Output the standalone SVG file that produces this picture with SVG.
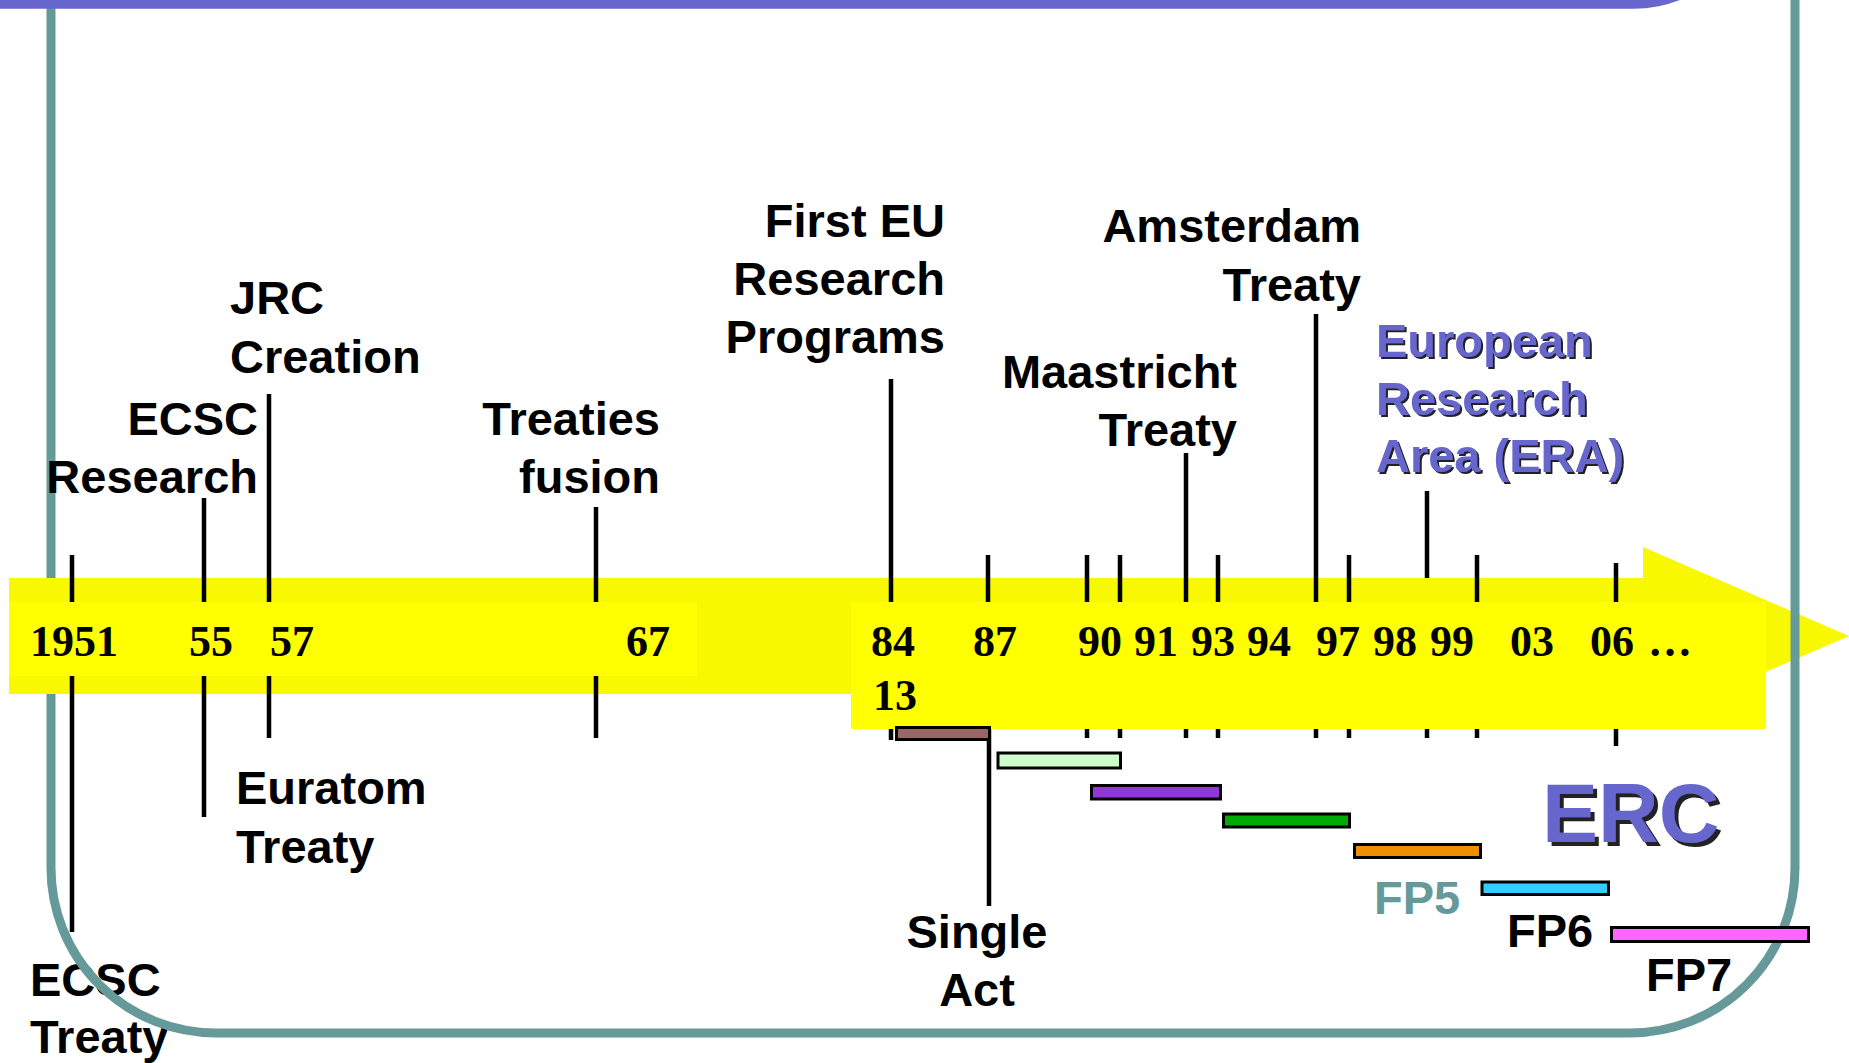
<svg xmlns="http://www.w3.org/2000/svg" width="1849" height="1063" viewBox="0 0 1849 1063">
<defs>
<filter id="sh2" x="-10%" y="-10%" width="120%" height="130%">
<feFlood flood-color="#222"/><feComposite in2="SourceAlpha" operator="in"/><feOffset dx="2" dy="2"/>
<feMerge><feMergeNode/><feMergeNode in="SourceGraphic"/></feMerge>
</filter>
<filter id="sh4" x="-10%" y="-10%" width="120%" height="130%">
<feFlood flood-color="#222"/><feComposite in2="SourceAlpha" operator="in"/><feOffset dx="4" dy="4"/>
<feMerge><feMergeNode/><feMergeNode in="SourceGraphic"/></feMerge>
</filter>
</defs>
<style>
.lbl{font-family:"Liberation Sans",Arial,sans-serif;font-weight:bold;font-size:47px;fill:#000}
.end{text-anchor:end}
.mid{text-anchor:middle}
.yr{font-family:"Liberation Serif","Times New Roman",serif;font-weight:bold;font-size:44px;fill:#000}
.era{fill:#6666CC}
.tick{stroke:#000;stroke-width:4.5;fill:none}
.bar{stroke:#000;stroke-width:3}
</style>
<rect width="1849" height="1063" fill="#fff"/>
<g id="timeline-arrow">
<polygon points="9,578 1643,578 1643,547 1849,636 1643,725 1643,694 9,694" fill="#F8F800"/>
<rect x="851" y="602" width="915" height="127" fill="#FFFF00"/>
</g>
<g id="ecsc-treaty"><text class="lbl" x="30" y="996">ECSC</text><text class="lbl" x="30" y="1053">Treaty</text></g>
<g id="frame">
<rect x="51" y="-300" width="1744" height="1333" rx="165" ry="165" fill="none" stroke="#669999" stroke-width="9"/>
<rect x="-200" y="-400" width="1964" height="408.7" rx="131" ry="131" fill="#6666CC"/>
</g>
<g id="year-box">
<rect x="9" y="578" width="80" height="116" fill="#F8F800"/>
<rect x="9" y="602" width="688" height="74" fill="#FFFF00"/>
</g>
<g id="connectors">
<line class="tick" x1="72" y1="555" x2="72" y2="602"/>
<line class="tick" x1="204" y1="498" x2="204" y2="602"/>
<line class="tick" x1="269" y1="394" x2="269" y2="602"/>
<line class="tick" x1="596" y1="507" x2="596" y2="602"/>
<line class="tick" x1="891" y1="379" x2="891" y2="602"/>
<line class="tick" x1="988" y1="555" x2="988" y2="602"/>
<line class="tick" x1="1087" y1="555" x2="1087" y2="602"/>
<line class="tick" x1="1120" y1="555" x2="1120" y2="602"/>
<line class="tick" x1="1186" y1="453" x2="1186" y2="602"/>
<line class="tick" x1="1218" y1="555" x2="1218" y2="602"/>
<line class="tick" x1="1316" y1="314" x2="1316" y2="602"/>
<line class="tick" x1="1349" y1="555" x2="1349" y2="602"/>
<line class="tick" x1="1427" y1="491" x2="1427" y2="578"/>
<line class="tick" x1="1477" y1="555" x2="1477" y2="602"/>
<line class="tick" x1="1616" y1="563" x2="1616" y2="602"/>
<line class="tick" x1="72" y1="676" x2="72" y2="932"/>
<line class="tick" x1="204" y1="676" x2="204" y2="817"/>
<line class="tick" x1="269" y1="676" x2="269" y2="738"/>
<line class="tick" x1="596" y1="676" x2="596" y2="738"/>
<line class="tick" x1="891" y1="729" x2="891" y2="740"/>
<line class="tick" x1="989" y1="729" x2="989" y2="906"/>
<line class="tick" x1="1087" y1="729" x2="1087" y2="738"/>
<line class="tick" x1="1120" y1="729" x2="1120" y2="738"/>
<line class="tick" x1="1186" y1="729" x2="1186" y2="738"/>
<line class="tick" x1="1218" y1="729" x2="1218" y2="738"/>
<line class="tick" x1="1316" y1="729" x2="1316" y2="738"/>
<line class="tick" x1="1349" y1="729" x2="1349" y2="738"/>
<line class="tick" x1="1427" y1="729" x2="1427" y2="738"/>
<line class="tick" x1="1477" y1="729" x2="1477" y2="738"/>
<line class="tick" x1="1616" y1="729" x2="1616" y2="746"/>
</g>
<g id="years">
<text class="yr" x="30" y="656">1951</text>
<text class="yr" x="189" y="656">55</text>
<text class="yr" x="270" y="656">57</text>
<text class="yr" x="626" y="656">67</text>
<text class="yr" x="871" y="656">84</text>
<text class="yr" x="873" y="710">13</text>
<text class="yr" x="973" y="656">87</text>
<text class="yr" x="1078" y="656">90</text>
<text class="yr" x="1134" y="656">91</text>
<text class="yr" x="1191" y="656">93</text>
<text class="yr" x="1247" y="656">94</text>
<text class="yr" x="1316" y="656">97</text>
<text class="yr" x="1373" y="656">98</text>
<text class="yr" x="1430" y="656">99</text>
<text class="yr" x="1510" y="656">03</text>
<text class="yr" x="1590" y="656">06</text>
<text class="yr" x="1648" y="656">…</text>
</g>
<g id="fp-bars">
<rect class="bar" x="896.5" y="727.5" width="93" height="12" fill="#996666"/>
<rect class="bar" x="998" y="753" width="122.5" height="15" fill="#CCFFCC"/>
<rect class="bar" x="1091.5" y="785.5" width="129" height="13.5" fill="#9236DC"/>
<rect class="bar" x="1223.5" y="814" width="126" height="13" fill="#00AA00"/>
<rect class="bar" x="1354.5" y="844.5" width="126" height="13" fill="#EE8E00"/>
<rect class="bar" x="1482" y="882" width="126.5" height="12.5" fill="#33CCFF"/>
<rect class="bar" x="1611.5" y="927.5" width="197" height="14" fill="#FF66FF"/>
</g>
<g id="jrc-creation"><text class="lbl" x="230" y="314">JRC</text><text class="lbl" x="230" y="373">Creation</text></g>
<g id="ecsc-research"><text class="lbl end" x="258" y="435">ECSC</text><text class="lbl end" x="258" y="493">Research</text></g>
<g id="treaties-fusion"><text class="lbl end" x="660" y="435">Treaties</text><text class="lbl end" x="660" y="493">fusion</text></g>
<g id="first-eu-research"><text class="lbl end" x="945" y="237">First EU</text><text class="lbl end" x="945" y="295">Research</text><text class="lbl end" x="945" y="353">Programs</text></g>
<g id="maastricht-treaty"><text class="lbl end" x="1237" y="388">Maastricht</text><text class="lbl end" x="1237" y="446">Treaty</text></g>
<g id="amsterdam-treaty"><text class="lbl end" x="1361" y="242">Amsterdam</text><text class="lbl end" x="1361" y="301">Treaty</text></g>
<g id="era" filter="url(#sh2)">
<text class="lbl era" x="1376" y="357">European</text><text class="lbl era" x="1376" y="415">Research</text><text class="lbl era" x="1376" y="472">Area (ERA)</text>
</g>
<g id="euratom-treaty"><text class="lbl" x="236" y="804">Euratom</text><text class="lbl" x="236" y="863">Treaty</text></g>
<g id="single-act"><text class="lbl mid" x="977" y="948">Single</text><text class="lbl mid" x="977" y="1006">Act</text></g>
<g id="fp5"><text class="lbl" x="1374" y="914" style="fill:#669999">FP5</text></g>
<g id="fp6"><text class="lbl" x="1507" y="947">FP6</text></g>
<g id="fp7"><text class="lbl" x="1646" y="991">FP7</text></g>
<g id="erc" filter="url(#sh4)">
<text class="lbl" x="1542" y="842" style="font-size:84px;fill:#6666CC">ERC</text>
</g>
</svg>
